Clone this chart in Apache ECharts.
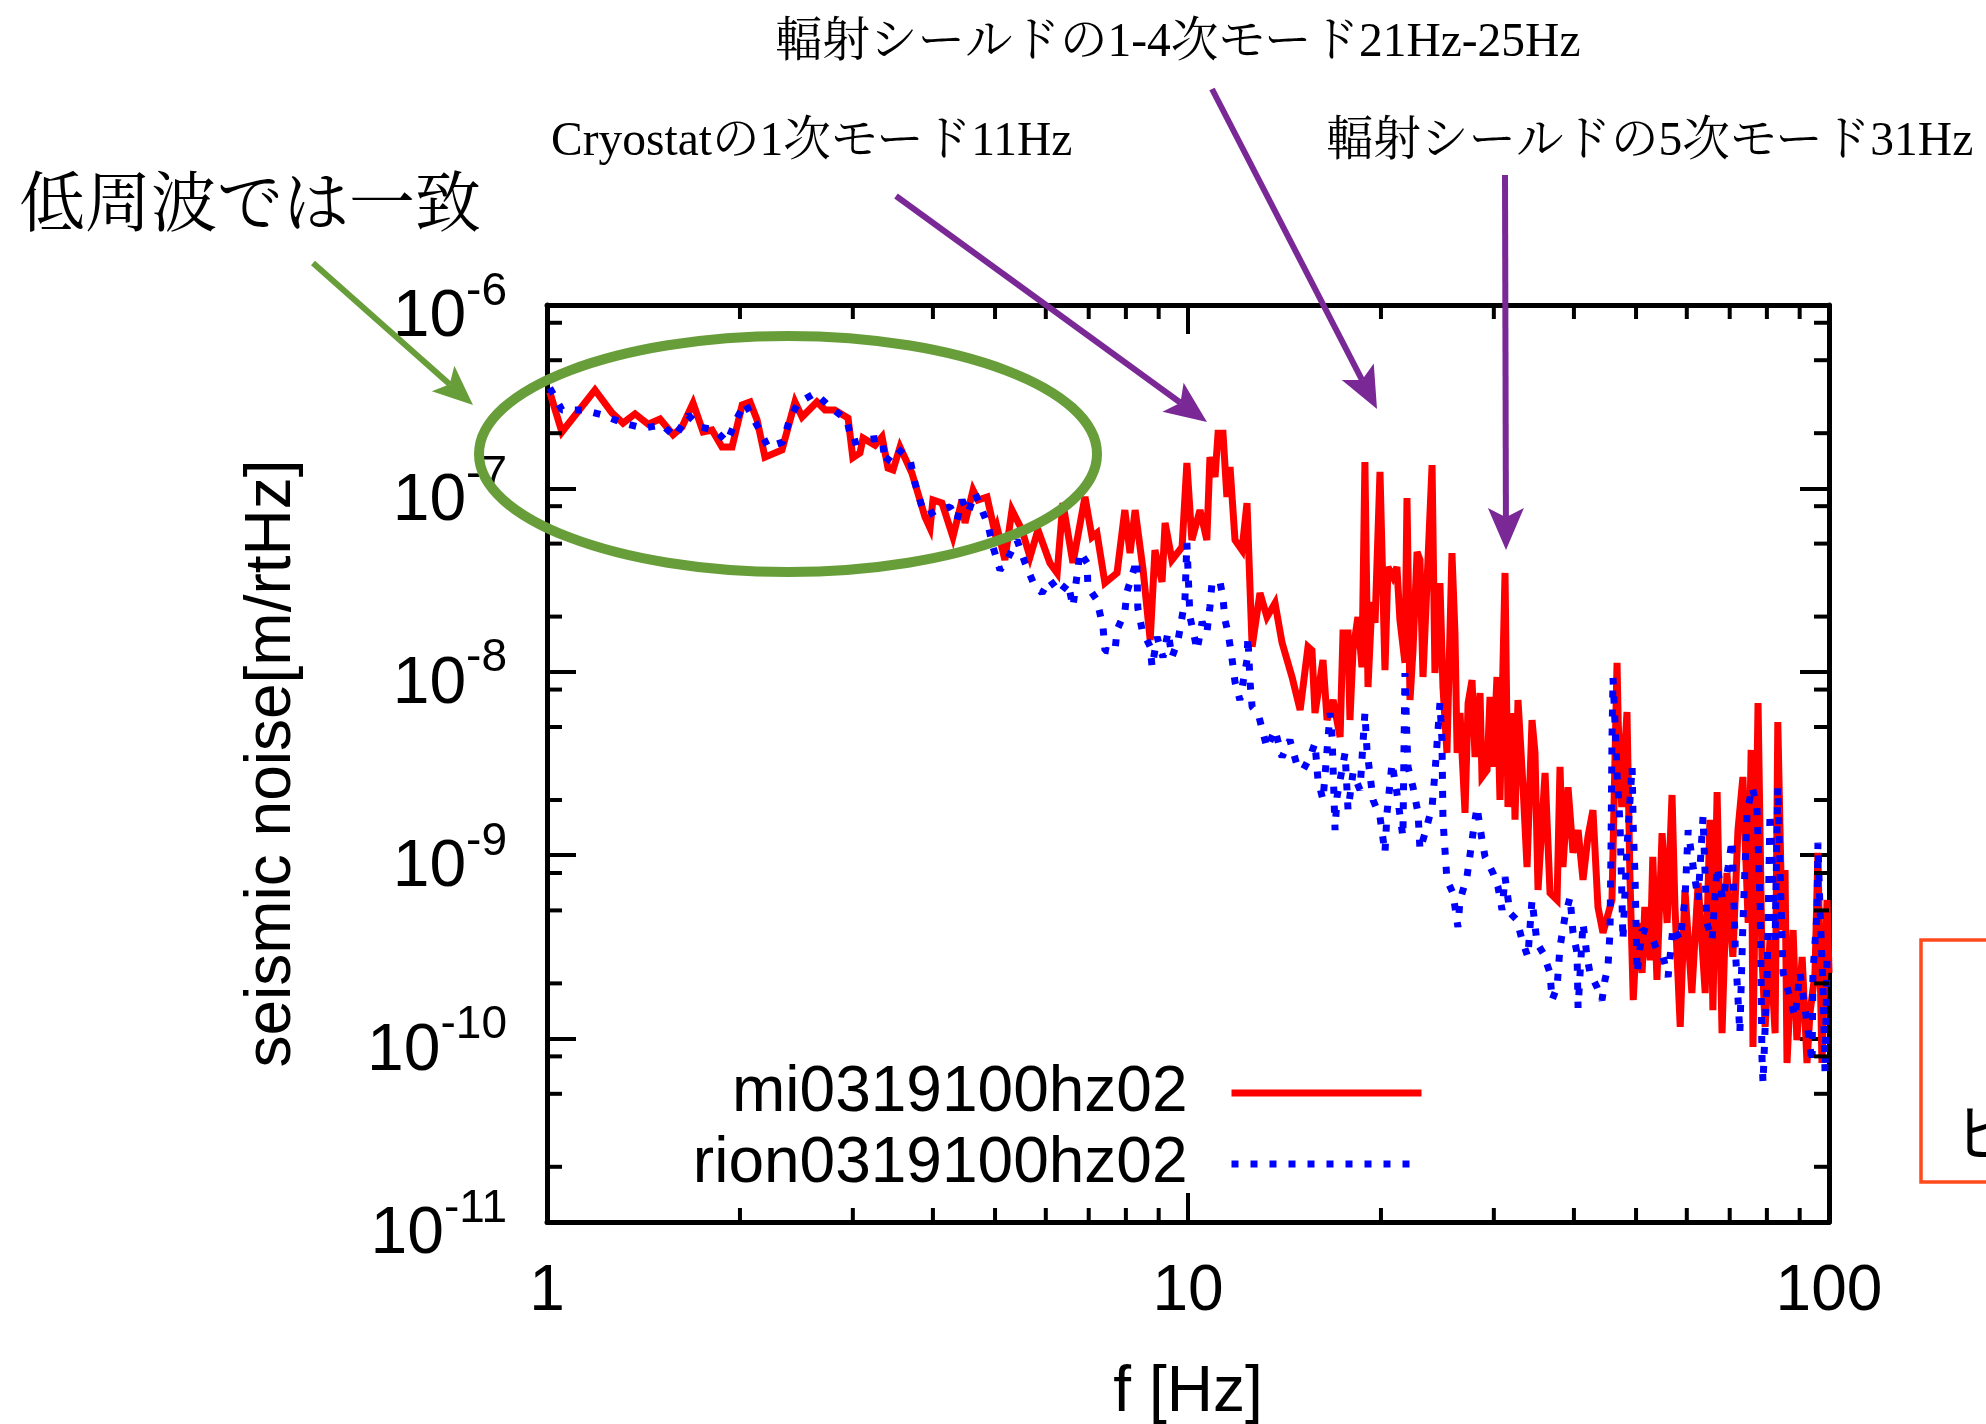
<!DOCTYPE html>
<html><head><meta charset="utf-8">
<script src="https://cdn.jsdelivr.net/npm/echarts@6/dist/echarts.min.js"></script>
<style>html,body{margin:0;padding:0;background:#fff;}#c{width:1986px;height:1424px;}</style>
</head><body><div id="c"></div>
<script>
// ---------- data: [frequency Hz, seismic noise m/rtHz] ----------
const seriesNames = ['mi0319100hz02', 'rion0319100hz02'];

const redLow = [[1.01,3.35e-7],[1.055,2.03e-7],[1.188,3.44e-7],[1.263,2.58e-7],[1.314,2.27e-7],[1.372,2.55e-7],[1.438,2.24e-7],[1.501,2.39e-7],[1.573,1.96e-7],[1.624,2.16e-7],[1.69,2.92e-7],[1.752,2.03e-7],[1.809,2.08e-7],[1.875,1.68e-7],[1.944,1.68e-7],[2.016,2.85e-7],[2.074,2.96e-7],[2.127,2.36e-7],[2.188,1.48e-7],[2.326,1.62e-7],[2.437,2.96e-7],[2.5,2.45e-7],[2.637,2.96e-7],[2.715,2.68e-7],[2.81,2.68e-7],[2.949,2.42e-7],[3.0,1.47e-7],[3.078,1.56e-7],[3.112,1.88e-7],[3.249,1.72e-7],[3.332,1.91e-7],[3.404,1.29e-7],[3.466,1.26e-7],[3.554,1.68e-7],[3.71,1.21e-7],[3.888,6.98e-8],[3.959,6.08e-8],[4.0,8.65e-8],[4.132,8.32e-8],[4.298,5.43e-8],[4.441,8.65e-8],[4.489,6.48e-8],[4.62,9.8e-8],[4.703,8.65e-8],[4.858,8.98e-8],[5.0,5.71e-8]];

const redMid = [[5.035,6.16e-8],[5.18,4.07e-8],[5.313,7.62e-8],[5.508,5.93e-8],[5.669,4.23e-8],[5.834,5.93e-8],[6.09,3.92e-8],[6.25,3.46e-8],[6.38,8.32e-8],[6.615,3.92e-8],[6.907,8.98e-8],[7.084,5.43e-8],[7.21,5.71e-8],[7.42,3.05e-8],[7.75,3.46e-8],[7.97,7.62e-8],[8.12,4.44e-8],[8.27,7.62e-8],[8.51,3.59e-8],[8.73,1.49e-8],[8.88,4.61e-8],[9.11,3.09e-8],[9.21,6.48e-8],[9.44,4.07e-8],[9.79,4.79e-8],[9.96,1.375e-7],[10.14,5.23e-8],[10.44,7.62e-8],[10.7,5.23e-8],[10.82,1.48e-7],[11.02,1.154e-7],[11.14,2.0e-7],[11.34,2.0e-7],[11.5,8.98e-8],[11.63,1.31e-7],[11.84,5.23e-8],[12.14,4.61e-8],[12.36,8.32e-8],[12.59,1.37e-8],[12.95,2.69e-8],[13.28,1.99e-8],[13.67,2.37e-8],[14.02,1.44e-8],[14.53,9.37e-9],[14.96,6.19e-9],[15.39,1.37e-8]];

const redHigh = [[15.61,1.31e-8],[15.78,5.96e-9],[16.24,1.16e-8],[16.48,5.46e-9],[16.84,7.02e-9],[17.27,4.41e-9],[17.45,1.63e-8],[17.77,1.63e-8],[17.89,5.46e-9],[18.09,1.31e-8],[18.41,1.99e-8],[18.68,1.06e-8],[18.88,1.39e-7],[19.09,8.26e-9],[19.36,2.40e-8],[19.58,1.85e-8],[19.93,1.23e-7],[20.29,1.02e-8],[20.51,3.73e-8],[20.88,3.29e-8],[21.18,3.73e-8],[21.41,1.92e-8],[21.8,1.12e-8],[21.96,8.87e-8],[22.2,7.02e-9],[22.44,1.31e-8],[22.77,4.50e-8],[23.01,4.07e-8],[23.26,9.37e-9],[23.68,4.07e-8],[24.03,1.34e-7],[24.28,9.85e-9],[24.72,3.05e-8],[24.99,8.26e-9],[25.35,3.61e-9],[25.81,4.44e-8],[26.09,1.63e-8],[26.29,3.61e-9],[26.57,5.96e-9],[27.05,1.70e-9],[27.35,6.76e-9],[27.74,9.02e-9],[28.04,3.43e-9],[28.55,7.66e-9],[28.75,2.67e-9],[29.28,2.91e-9],[29.59,7.29e-9],[29.91,3.03e-9],[30.34,9.37e-9],[30.67,2.0e-9],[31.23,3.46e-8],[31.56,1.83e-9],[32.14,5.96e-9],[32.37,1.56e-9],[32.72,7.02e-9],[33.32,2.35e-9],[33.8,8.62e-10],[34.41,5.46e-9],[34.78,3.61e-9],[35.16,6.46e-10],[36.06,2.81e-9],[36.71,6.22e-10],[37.65,5.70e-10],[38.05,3.03e-9],[38.46,8.62e-10],[39.16,2.35e-9],[39.87,1.03e-9],[40.6,1.37e-9],[41.33,7.33e-10],[42.07,1.26e-9],[42.83,1.76e-9],[43.61,5.22e-10],[44.4,3.77e-10],[45.86,5.70e-10]];

const redTop = [[46.7,1.12e-8],[46.9,5.26e-9],[47.5,1.83e-9],[48.4,6.04e-9],[48.9,8.0e-10],[49.5,1.62e-10],[50.2,4.27e-10],[51.1,2.28e-10],[51.6,5.22e-10],[52.6,2.68e-10],[53.1,9.8e-10],[53.9,2.09e-10],[54.9,1.32e-9],[55.9,4.27e-10],[56.9,2.13e-9],[57.5,5.22e-10],[58.6,1.16e-10],[59.6,6.46e-10],[61.1,1.77e-10],[62.5,7.05e-10],[64.1,1.77e-10],[65.2,1.56e-9],[65.9,1.43e-10],[66.9,2.21e-9],[68.1,1.07e-10],[69.3,8.0e-10],[70.8,2.79e-10],[72.1,1.37e-9],[73.4,2.67e-9],[74.8,4.27e-10],[75.6,3.75e-9],[76.1,9.0e-11],[77.5,6.76e-9],[78.6,2.79e-10],[79.5,1.16e-10],[80.9,3.45e-10],[82.4,1.07e-10],[83.2,5.32e-9],[84.5,3.91e-10],[85.4,8.31e-10],[86.0,7.36e-11],[87.9,3.91e-10],[89.1,9.8e-11],[90.8,2.79e-10],[92.4,7.36e-11],[93.4,1.38e-10],[95.1,2.28e-10],[96.1,1.03e-9],[97.5,7.36e-11],[99.3,5.70e-10],[100,2.28e-10]];

const blueLow = [[1.01,3.53e-7],[1.055,2.68e-7],[1.138,2.68e-7],[1.223,2.51e-7],[1.314,2.27e-7],[1.412,2.13e-7],[1.512,2.22e-7],[1.584,1.91e-7],[1.66,2.51e-7],[1.733,2.16e-7],[1.828,2.08e-7],[1.909,1.79e-7],[1.979,2.42e-7],[2.037,2.92e-7],[2.134,2.16e-7],[2.212,1.68e-7],[2.334,1.79e-7],[2.394,2.42e-7],[2.464,2.92e-7],[2.619,3.31e-7],[2.764,2.78e-7],[2.938,2.36e-7],[2.99,1.77e-7],[3.112,1.84e-7],[3.332,1.88e-7],[3.368,1.375e-7],[3.516,1.66e-7],[3.685,1.43e-7],[3.751,1.07e-7],[3.846,7.92e-8],[3.929,7.16e-8],[4.059,7.62e-8],[4.254,7.92e-8],[4.362,6.73e-8],[4.441,8.65e-8],[4.538,7.34e-8],[4.653,9.44e-8],[4.771,7.62e-8],[4.875,6.32e-8],[4.964,4.79e-8]];

const blueMid = [[5.09,3.59e-8],[5.22,4.07e-8],[5.41,5.23e-8],[5.57,3.92e-8],[5.73,3.09e-8],[5.92,2.69e-8],[6.09,3.17e-8],[6.31,2.69e-8],[6.5,3.05e-8],[6.615,2.26e-8],[6.785,4.50e-8],[6.96,3.92e-8],[6.98,2.90e-8],[7.21,2.46e-8],[7.37,1.75e-8],[7.42,1.31e-8],[7.69,1.28e-8],[7.75,1.69e-8],[7.97,2.12e-8],[8.03,2.72e-8],[8.32,4.07e-8],[8.35,2.23e-8],[8.48,1.69e-8],[8.73,1.37e-8],[8.79,1.06e-8],[8.95,1.55e-8],[9.14,1.20e-8],[9.31,1.65e-8],[9.44,1.20e-8],[9.65,1.49e-8],[9.89,2.46e-8],[9.96,5.04e-8],[10.07,1.99e-8],[10.18,1.69e-8],[10.33,1.31e-8],[10.52,1.87e-8],[10.7,1.63e-8],[10.82,2.26e-8],[10.9,3.05e-8],[11.22,3.09e-8],[11.34,2.53e-8],[11.42,1.92e-8],[11.55,1.63e-8],[11.71,1.19e-8],[11.84,8.8e-9],[12.05,7.02e-9],[12.36,1.16e-8],[12.4,1.55e-8],[12.5,8.69e-9],[12.59,6.43e-9],[12.86,5.96e-9],[13.28,3.84e-9],[13.67,4.82e-9],[14.02,3.43e-9],[14.42,4.25e-9],[14.79,3.10e-9]];

const blueHigh = [[15.12,2.91e-9],[15.5,3.43e-9],[15.78,4.09e-9],[15.95,2.57e-9],[16.24,2.0e-9],[16.66,5.96e-9],[16.78,4.41e-9],[16.96,1.37e-9],[17.08,2.08e-9],[17.58,3.61e-9],[17.77,1.76e-9],[18.09,2.81e-9],[18.55,2.27e-9],[18.88,5.96e-9],[19.02,3.75e-9],[19.44,2.0e-9],[19.93,1.62e-9],[20.29,1.03e-9],[20.44,1.70e-9],[20.81,3.18e-9],[21.18,2.18e-9],[21.64,1.26e-9],[21.8,9.85e-9],[21.96,4.25e-9],[22.04,3.03e-9],[22.44,2.35e-9],[22.85,1.70e-9],[23.01,1.07e-9],[23.43,1.32e-9],[24.03,1.83e-9],[24.28,2.81e-9],[24.72,6.76e-9],[24.9,4.25e-9],[24.99,1.56e-9],[25.35,7.33e-10],[25.9,6.22e-10],[26.37,4.06e-10],[26.57,5.70e-10],[27.24,7.61e-10],[27.84,1.32e-9],[28.24,1.83e-9],[28.75,1.21e-9],[29.07,9.8e-10],[29.91,8.0e-10],[30.45,6.71e-10],[30.9,5.03e-10],[31.23,7.61e-10],[31.79,4.84e-10],[32.6,4.43e-10],[33.2,3.45e-10],[33.9,2.79e-10],[34.41,5.70e-10],[35.04,3.32e-10],[35.8,2.93e-10],[36.71,2.28e-10],[36.98,1.62e-10],[37.65,1.91e-10],[38.05,3.16e-10],[38.73,4.60e-10],[39.45,5.92e-10],[39.87,3.77e-10],[40.45,2.93e-10],[40.6,1.47e-10],[41.33,4.27e-10],[41.93,2.79e-10],[42.38,2.28e-10],[43.45,1.91e-10],[44.24,1.62e-10],[44.72,2.09e-10],[45.2,2.46e-10],[45.53,3.77e-10]];

const blueTop = [[45.7,1.07e-9],[45.86,4.25e-9],[46.03,9.25e-9],[46.36,5.26e-9],[46.7,2.81e-9],[47.2,1.50e-9],[47.5,6.46e-10],[47.7,3.45e-10],[48.4,1.11e-9],[49.3,3.03e-9],[49.5,1.42e-9],[49.8,8.0e-10],[50.2,2.28e-10],[51.1,3.91e-10],[52.6,3.77e-10],[53.9,3.04e-10],[55.1,2.79e-10],[56.1,2.17e-10],[57.1,4.06e-10],[58.6,3.45e-10],[59.6,5.70e-10],[60.3,1.37e-9],[61.4,8.62e-10],[62.5,5.70e-10],[63.6,1.62e-9],[64.5,4.27e-10],[65.7,3.45e-10],[66.9,8.62e-10],[68.3,5.70e-10],[69.6,8.62e-10],[70.6,1.21e-9],[71.4,3.16e-10],[72.6,1.07e-10],[73.4,4.27e-10],[74.5,1.70e-9],[75.9,2.35e-9],[77.2,1.83e-9],[78.1,5.22e-10],[78.6,7.94e-11],[78.9,5.73e-11],[80.1,2.28e-10],[80.9,1.70e-9],[81.5,9.8e-10],[82.4,3.45e-10],[83.2,2.35e-9],[83.9,8.0e-10],[84.8,2.28e-10],[86.3,1.84e-10],[88.5,1.31e-10],[90.1,2.28e-10],[92.4,1.22e-10],[94.1,7.36e-11],[94.4,2.28e-10],[95.8,4.84e-10],[96.1,1.17e-9],[96.8,5.22e-10],[97.9,1.84e-10],[98.6,6.49e-11],[99.3,2.79e-10]];

// axis ranges and minor tick positions
const xRange = [1, 100];
const yRange = [1e-11, 1e-6];
const xMinorTicks = [2,3,4,5,6,7,8,9,20,30,40,50,60,70,80,90];
const yMinorTicks = [2e-11,5e-11,8e-11,2e-10,5e-10,8e-10,2e-9,5e-9,8e-9,2e-8,5e-8,8e-8,2e-7,5e-7,8e-7];

// ---------- chart ----------
const SANS = "'Liberation Sans', Arial, Helvetica, sans-serif";
const SERIF_JP = "'Liberation Serif', 'Noto Serif CJK JP', 'Noto Sans CJK JP', serif";
const redData = redLow.concat(redMid, redHigh, redTop);
const blueData = blueLow.concat(blueMid, blueHigh, blueTop);

const chart = echarts.init(document.getElementById('c'), null, {renderer: 'canvas', width: 1986, height: 1424});

function arrow(x1, y1, x2, y2, color, lw, hl, hw) {
  const dx = x2 - x1, dy = y2 - y1, L = Math.hypot(dx, dy);
  const ux = dx / L, uy = dy / L, nx = -uy, ny = ux;
  const bx = x2 - ux * hl, by = y2 - uy * hl;
  const mx = x2 - ux * hl * 0.78, my = y2 - uy * hl * 0.78;
  return [
    {type: 'line', z: 100, shape: {x1: x1, y1: y1, x2: mx, y2: my}, style: {stroke: color, lineWidth: lw}},
    {type: 'polygon', z: 101, shape: {points: [[x2, y2], [bx + nx * hw, by + ny * hw], [mx, my], [bx - nx * hw, by - ny * hw]]}, style: {fill: color}}
  ];
}
const GREEN = '#689e3a', PURPLE = '#7a2896';
const RED = '#ff0000', BLUE = '#0000ff';

const axisCommon = {
  axisLine: {show: true, lineStyle: {color: '#000', width: 5}},
  axisTick: {show: true, inside: true, length: 29, lineStyle: {color: '#000', width: 4}},
  splitLine: {show: false},
  minorTick: {show: false}
};

function legendFor(name, top, lineStyle) {
  return {
    data: [name], orient: 'vertical', right: 561, top: top, align: 'right', padding: 0,
    itemWidth: 190, itemHeight: 20, selectedMode: false,
    itemStyle: {opacity: 0},
    lineStyle: lineStyle,
    textStyle: {fontSize: 64, fontFamily: SANS, color: '#000', lineHeight: 64, padding: [0, 39, 0, 0]}
  };
}

const option = {
  animation: false,
  backgroundColor: '#fff',
  grid: {left: 547, top: 305, width: 1282, height: 917, containLabel: false, outerBoundsMode: 'none'},
  xAxis: [
    Object.assign({
      type: 'log', logBase: 10, min: xRange[0], max: xRange[1], position: 'bottom',
      name: 'f [Hz]', nameLocation: 'middle', nameGap: 139,
      nameTextStyle: {fontSize: 64, fontFamily: SANS, color: '#000'},
      axisLabel: {fontSize: 64, fontFamily: SANS, color: '#000', margin: 38}
    }, axisCommon),
    Object.assign({
      type: 'log', logBase: 10, min: xRange[0], max: xRange[1], position: 'top',
      axisLabel: {show: false}
    }, axisCommon)
  ],
  yAxis: [
    Object.assign({
      type: 'log', logBase: 10, min: yRange[0], max: yRange[1], position: 'left', splitNumber: 5,
      name: 'seismic noise[m/rtHz]', nameLocation: 'middle', nameGap: 243,
      nameTextStyle: {fontSize: 64, fontFamily: SANS, color: '#000'},
      axisLabel: {
        margin: 40, color: '#000', padding: [14, 0, 0, 0],
        formatter: function (v) {
          const e = String(Math.round(Math.log10(v)));
          return '{s|' + e + '}\n{b|10}{h|' + e + '}';
        },
        rich: {
          b: {fontSize: 66, fontFamily: SANS, color: '#000', lineHeight: 40},
          h: {fontSize: 46, fontFamily: SANS, color: 'rgba(0,0,0,0)', lineHeight: 40},
          s: {fontSize: 46, fontFamily: SANS, color: '#000', lineHeight: 12}
        }
      }
    }, axisCommon),
    Object.assign({
      type: 'log', logBase: 10, min: yRange[0], max: yRange[1], position: 'right', splitNumber: 5,
      axisLabel: {show: false}
    }, axisCommon)
  ],
  legend: [
    legendFor(seriesNames[0], 1061, {color: RED, width: 7, type: 'solid'}),
    legendFor(seriesNames[1], 1132, {color: BLUE, width: 7, type: [7, 12]})
  ],
  series: [
    {
      name: seriesNames[0], type: 'line', data: redData, symbol: 'none', showSymbol: false,
      lineStyle: {color: RED, width: 7, join: 'miter', miterLimit: 4}, itemStyle: {color: RED}, z: 2
    },
    {
      name: seriesNames[1], type: 'line', data: blueData, symbol: 'none', showSymbol: false,
      lineStyle: {color: BLUE, width: 7, type: [7, 12], cap: 'butt'}, itemStyle: {color: BLUE}, z: 3
    },
    {
      type: 'custom', silent: true, z: 4, clip: false,
      data: xMinorTicks.map(function (f) { return [f, yRange[0]]; }),
      renderItem: function (params, api) {
        const cs = params.coordSys;
        const x = api.coord([api.value(0), api.value(1)])[0];
        const yb = cs.y + cs.height, yt = cs.y;
        return {type: 'group', children: [
          {type: 'line', shape: {x1: x, y1: yb, x2: x, y2: yb - 14}, style: {stroke: '#000', lineWidth: 4}},
          {type: 'line', shape: {x1: x, y1: yt, x2: x, y2: yt + 14}, style: {stroke: '#000', lineWidth: 4}}
        ]};
      }
    },
    {
      type: 'custom', silent: true, z: 4, clip: false,
      data: yMinorTicks.map(function (v) { return [xRange[0], v]; }),
      renderItem: function (params, api) {
        const cs = params.coordSys;
        const y = api.coord([api.value(0), api.value(1)])[1];
        const xl = cs.x, xr = cs.x + cs.width;
        return {type: 'group', children: [
          {type: 'line', shape: {x1: xl, y1: y, x2: xl + 15, y2: y}, style: {stroke: '#000', lineWidth: 4}},
          {type: 'line', shape: {x1: xr, y1: y, x2: xr - 15, y2: y}, style: {stroke: '#000', lineWidth: 4}}
        ]};
      }
    }
  ],
  graphic: [
    {type: 'text', z: 100, x: 19, y: 209, style: {text: '低周波では一致', fontSize: 66, fontFamily: SERIF_JP, fill: '#000', align: 'left', verticalAlign: 'middle'}},
    {type: 'text', z: 100, x: 551, y: 143, style: {text: 'Cryostatの1次モード11Hz', fontSize: 47.5, fontFamily: SERIF_JP, fill: '#000', align: 'left', verticalAlign: 'middle'}},
    {type: 'text', z: 100, x: 775, y: 44, style: {text: '輻射シールドの1-4次モード21Hz-25Hz', fontSize: 47.5, fontFamily: SERIF_JP, fill: '#000', align: 'left', verticalAlign: 'middle'}},
    {type: 'text', z: 100, x: 1326, y: 143, style: {text: '輻射シールドの5次モード31Hz', fontSize: 47.5, fontFamily: SERIF_JP, fill: '#000', align: 'left', verticalAlign: 'middle'}},
    {type: 'ellipse', z: 100, shape: {cx: 788, cy: 454, rx: 309, ry: 118}, style: {fill: 'none', stroke: GREEN, lineWidth: 10}},
    {type: 'rect', z: 100, shape: {x: 1921, y: 940, width: 200, height: 242}, style: {fill: 'none', stroke: '#ff4a1c', lineWidth: 3.5}},
    {type: 'text', z: 100, x: 1953, y: 1133, style: {text: 'ヒ', fontSize: 62, fontFamily: "'Noto Sans CJK JP', sans-serif", fill: '#000', align: 'left', verticalAlign: 'middle'}}
  ].concat(
    arrow(313, 263, 473, 405, GREEN, 6, 40, 17),
    arrow(896, 196, 1207, 422, PURPLE, 6, 42, 18),
    arrow(1212, 89, 1377, 409, PURPLE, 6, 42, 18),
    arrow(1505, 175, 1506, 550, PURPLE, 6, 42, 18)
  )
};
chart.setOption(option);
</script></body></html>
